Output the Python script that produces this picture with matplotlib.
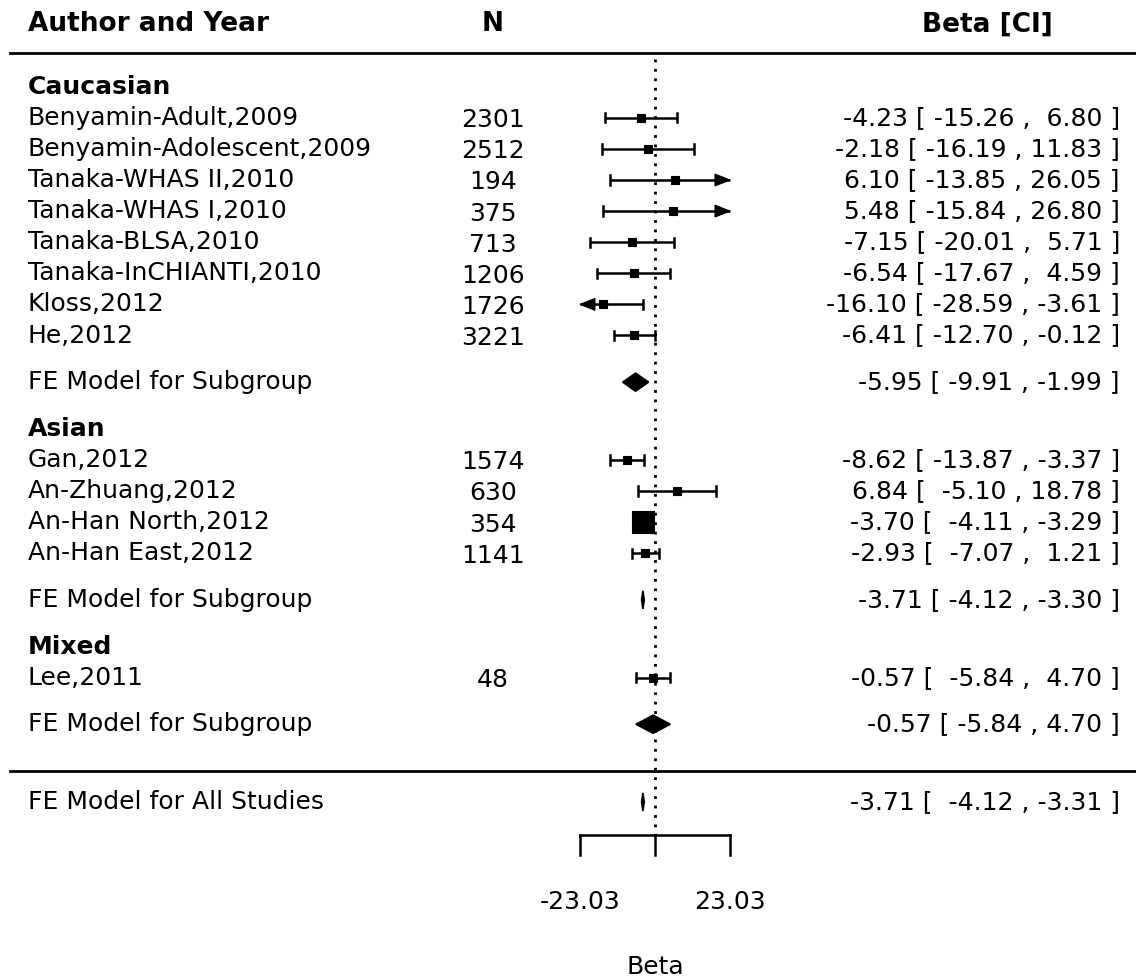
import numpy as np
import matplotlib
matplotlib.use('Agg')
import matplotlib.pyplot as plt

groups = ['Caucasian', 'Asian', 'Mixed']
group_sizes = [8, 4, 1]

studies = ['Benyamin-Adult,2009', 'Benyamin-Adolescent,2009', 'Tanaka-WHAS II,2010',
           'Tanaka-WHAS I,2010', 'Tanaka-BLSA,2010', 'Tanaka-InCHIANTI,2010',
           'Kloss,2012', 'He,2012', 'Gan,2012', 'An-Zhuang,2012',
           'An-Han North,2012', 'An-Han East,2012', 'Lee,2011']
n = [2301, 2512, 194, 375, 713, 1206, 1726, 3221, 1574, 630, 354, 1141, 48]
beta = [-4.23, -2.18, 6.10, 5.48, -7.15, -6.54, -16.10, -6.41, -8.62, 6.84, -3.70, -2.93, -0.57]
ci_lo = [-15.26, -16.19, -13.85, -15.84, -20.01, -17.67, -28.59, -12.70, -13.87, -5.10, -4.11, -7.07, -5.84]
ci_hi = [6.80, 11.83, 26.05, 26.80, 5.71, 4.59, -3.61, -0.12, -3.37, 18.78, -3.29, 1.21, 4.70]

sub_beta = [-5.95, -3.71, -0.57]
sub_lo = [-9.91, -4.12, -5.84]
sub_hi = [-1.99, -3.30, 4.70]

all_beta, all_lo, all_hi = -3.71, -4.12, -3.31
alim = 23.03

W, H = 1136, 980
ppu = 75 / alim          # pixels per beta unit
row_px = 31.1
x0_px, y0_px = 655, 802  # beta = 0, overall row

fig = plt.figure(figsize=(W / 100, H / 100), dpi=100)
ax = fig.add_axes([0, 0, 1, 1])
ax.set_xlim(-x0_px / ppu, (W - x0_px) / ppu)
ax.set_ylim((y0_px - H) / row_px, y0_px / row_px)
ax.axis('off')

tr = ax.get_yaxis_transform()
x_lab = 28 / W
x_n = 493 / W
x_ci = 1120 / W
fs = 18
lw = 1.8


def fmt_study(est, lo, hi):
    return f'{est:.2f} [{lo:>7.2f} , {hi:>5.2f} ]'


def fmt_sub(est, lo, hi):
    return f'{est:.2f} [ {lo:.2f} , {hi:.2f} ]'


def draw_ci(y, est, lo, hi, size):
    left, right = max(lo, -alim), min(hi, alim)
    ax.plot([left, right], [y, y], color='k', lw=lw, solid_capstyle='butt')
    arrow_len, arrow_h, cap = 15 / ppu, 0.19, 0.15
    for end, clipped in ((left, lo < -alim), (right, hi > alim)):
        if clipped:
            d = np.sign(end)
            ax.fill([end, end - d * arrow_len, end - d * arrow_len],
                    [y, y + arrow_h, y - arrow_h], color='k', lw=0.8)
        else:
            ax.plot([end, end], [y - cap, y + cap], color='k', lw=lw)
    ax.plot(est, y, marker='s', ms=size, color='k', mew=0.8)


def draw_diamond(y, est, lo, hi):
    h = 0.29
    ax.fill([lo, est, hi, est], [y, y + h, y, y - h], facecolor='k', edgecolor='k', lw=1.2)


# row positions
study_rows, sub_rows, group_rows = [], [], []
y = 23
for size in group_sizes:
    group_rows.append(y)
    y -= 1
    for _ in range(size):
        study_rows.append(y)
        y -= 1
    y -= 0.5
    sub_rows.append(y)
    y -= 1.5

# point sizes from inverse standard errors
se = (np.array(ci_hi) - np.array(ci_lo)) / 3.92
wi = 1 / se
psize = 0.5 + (wi - wi.min()) / (wi.max() - wi.min())

# header and lines
ax.text(x_lab, 25, 'Author and Year', transform=tr, ha='left', va='center',
        fontsize=19, fontweight='bold')
ax.text(x_n, 25, 'N', transform=tr, ha='center', va='center', fontsize=19, fontweight='bold')
ax.text(987 / W, 25, 'Beta [CI]', transform=tr, ha='center', va='center',
        fontsize=19, fontweight='bold')
ax.plot([10 / W, 1], [24.08, 24.08], transform=tr, color='k', lw=2)
ax.plot([10 / W, 1], [1, 1], transform=tr, color='k', lw=2)

ax.plot([0, 0], [23.9, -1.07], color='k', lw=2, linestyle=(0, (1, 2.4)))

for g, yg in zip(groups, group_rows):
    ax.text(x_lab, yg, g, transform=tr, ha='left', va='center', fontsize=fs, fontweight='bold')

for i, yr in enumerate(study_rows):
    ax.text(x_lab, yr, studies[i], transform=tr, ha='left', va='center', fontsize=fs)
    ax.text(x_n, yr - 0.08, str(n[i]), transform=tr, ha='center', va='center', fontsize=fs)
    ax.text(x_ci, yr, fmt_study(beta[i], ci_lo[i], ci_hi[i]), transform=tr,
            ha='right', va='center', fontsize=fs)
    draw_ci(yr, beta[i], ci_lo[i], ci_hi[i], 10.6 * psize[i])

for j, yr in enumerate(sub_rows):
    ax.text(x_lab, yr, 'FE Model for Subgroup', transform=tr, ha='left', va='center', fontsize=fs)
    ax.text(x_ci, yr, fmt_sub(sub_beta[j], sub_lo[j], sub_hi[j]), transform=tr,
            ha='right', va='center', fontsize=fs)
    draw_diamond(yr, sub_beta[j], sub_lo[j], sub_hi[j])

ax.text(x_lab, 0, 'FE Model for All Studies', transform=tr, ha='left', va='center', fontsize=fs)
ax.text(x_ci, 0, fmt_study(all_beta, all_lo, all_hi), transform=tr,
        ha='right', va='center', fontsize=fs)
draw_diamond(0, all_beta, all_lo, all_hi)

# x axis
ax_y, tick_len = -1.07, 0.64
ax.plot([-alim, alim], [ax_y, ax_y], color='k', lw=lw)
for t in (-alim, 0, alim):
    ax.plot([t, t], [ax_y, ax_y - tick_len], color='k', lw=lw)
for t in (-alim, alim):
    ax.text(t, -3.2, f'{t:.2f}', ha='center', va='center', fontsize=fs)
ax.text(0, -5.3, 'Beta', ha='center', va='center', fontsize=fs)

fig.savefig('out.png', dpi=100)
